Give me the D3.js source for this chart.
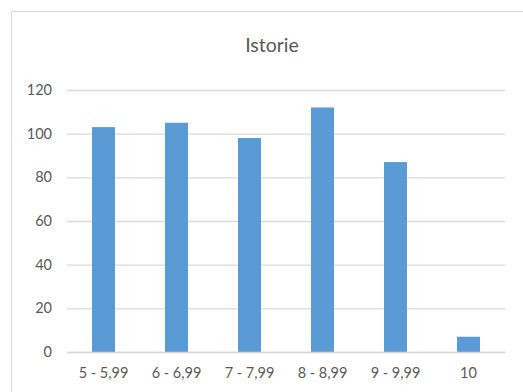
<!DOCTYPE html>
<html><head><meta charset="utf-8">
<script src="https://cdn.jsdelivr.net/npm/d3@7"></script>
<style>body{margin:0;background:#fff}svg{display:block}</style>
</head><body>
<script>
const categories = ["5 - 5,99","6 - 6,99","7 - 7,99","8 - 8,99","9 - 9,99","10"];
const values = [103,105,98,112,87,7];
const yTicks = [0,20,40,60,80,100,120];
const title = "Istorie";

const W=523,H=392;
const svg=d3.select("body").append("svg").attr("width",W).attr("height",H);
svg.append("rect").attr("x",11.5).attr("y",11.5).attr("width",W).attr("height",H)
  .attr("fill","#fff").attr("stroke","#d9d9d9");
const font="Lato, 'Open Sans', sans-serif";
const x=d3.scaleBand().domain(categories).range([67,505]).paddingInner(0.685).paddingOuter(0.3425);
const y=d3.scaleLinear().domain([0,120]).range([352,90]);

svg.append("text").attr("x",272).attr("y",52).attr("text-anchor","middle")
  .attr("font-family",font).attr("font-size",19.5).attr("fill","#595959").text(title);

const ya=svg.append("g").attr("transform","translate(67,0)")
  .call(d3.axisLeft(y).tickValues(yTicks).tickSize(-(505-67)).tickPadding(15));
ya.select(".domain").remove();
ya.selectAll("line").attr("stroke","#d9d9d9").attr("stroke-width",1.3);
ya.selectAll("text").attr("font-family",font).attr("font-size",14.5).attr("fill","#595959");

svg.selectAll("rect.bar").data(values).join("rect").attr("class","bar")
  .attr("x",(d,i)=>x(categories[i])).attr("width",x.bandwidth())
  .attr("y",d=>y(d)).attr("height",d=>y(0)-y(d)).attr("fill","#5b9bd5");

const xa=svg.append("g").attr("transform","translate(0,352)")
  .call(d3.axisBottom(x).tickSize(0).tickPadding(15.5));
xa.select(".domain").attr("stroke","#d9d9d9").attr("stroke-width",1.3);
xa.selectAll("text").attr("font-family",font).attr("font-size",14.5).attr("fill","#595959");
</script>
</body></html>
